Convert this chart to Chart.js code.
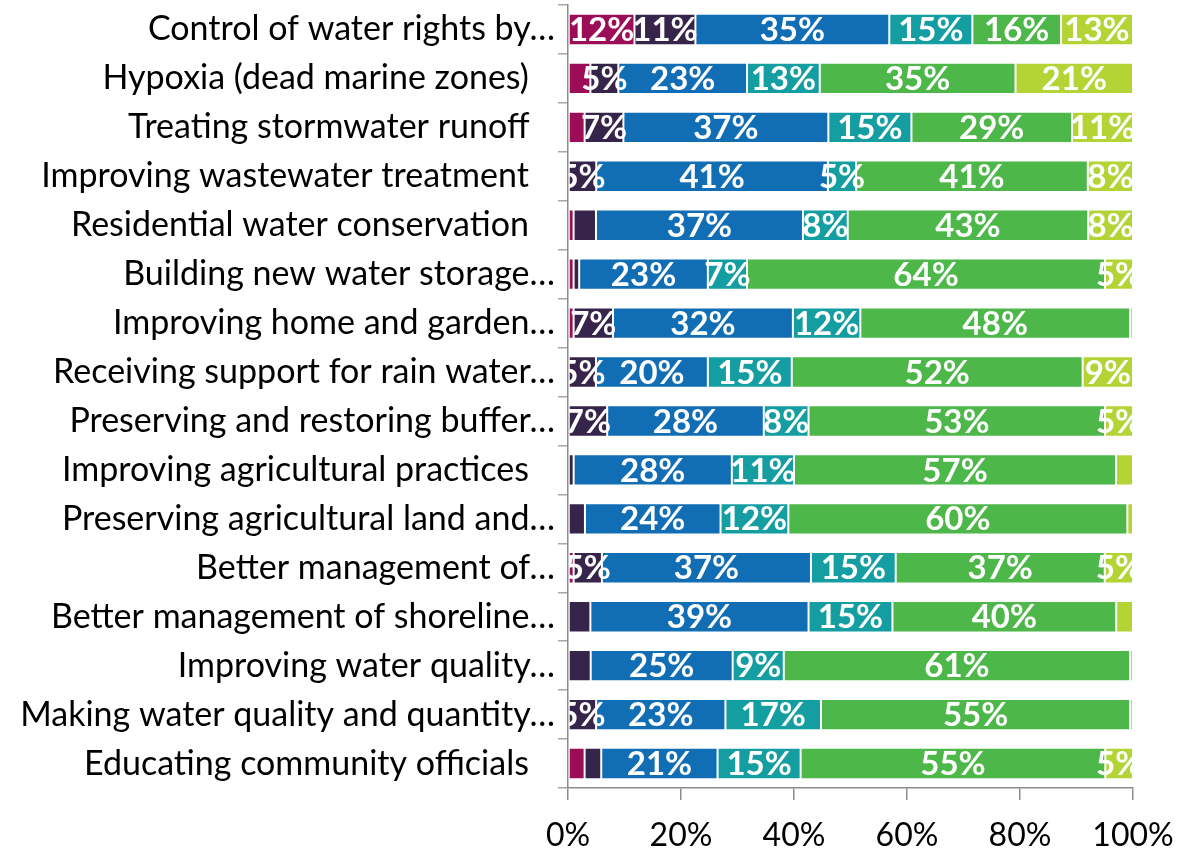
<!DOCTYPE html>
<html>
<head>
<meta charset="utf-8">
<script src="https://cdn.jsdelivr.net/npm/chart.js@4/dist/chart.umd.min.js"></script>
<style>
  html, body { margin: 0; padding: 0; background: #fff; }
  #wrap { position: relative; width: 1178px; height: 851px; }
</style>
</head>
<body>
<div id="wrap"><canvas id="chart"></canvas></div>
<script>
// topics, top to bottom (trailing nbsp on the untruncated ones, as in the source sheet)
const topics = [
  'Control of water rights by…',
  'Hypoxia (dead marine zones)\u00a0\u00a0\u00a0',
  'Treating stormwater runoff\u00a0\u00a0\u00a0',
  'Improving wastewater treatment\u00a0\u00a0\u00a0',
  'Residential water conservation\u00a0\u00a0\u00a0',
  'Building new water storage…',
  'Improving home and garden…',
  'Receiving support for rain water…',
  'Preserving and restoring buffer…',
  'Improving agricultural practices\u00a0\u00a0\u00a0',
  'Preserving agricultural land and…',
  'Better management of…',
  'Better management of shoreline…',
  'Improving water quality…',
  'Making water quality and quantity…',
  'Educating community officials\u00a0\u00a0\u00a0'
];

// response shares per topic (percent of respondents)
const level1 = [12, 4, 3, 0, 1, 1, 1, 0, 0, 0, 0, 1, 0, 0, 0, 3];
const level2 = [11, 5, 7, 5, 4, 1, 7, 5, 7, 1, 3, 5, 4, 4, 5, 3];
const level3 = [35, 23, 37, 41, 37, 23, 32, 20, 28, 28, 24, 37, 39, 25, 23, 21];
const level4 = [15, 13, 15, 5, 8, 7, 12, 15, 8, 11, 12, 15, 15, 9, 17, 15];
const level5 = [16, 35, 29, 41, 43, 64, 48, 52, 53, 57, 60, 37, 40, 61, 55, 55];
const level6 = [13, 21, 11, 8, 8, 5, 0.5, 9, 5, 3, 1, 5, 3, 0.5, 0.5, 5];

const xTicks = [0, 20, 40, 60, 80, 100];

const series = [level1, level2, level3, level4, level5, level6];
const colors = ['#9b0e57', '#37244a', '#116eb4', '#159ea1', '#4db749', '#b4d334'];

// 100% stacking: each row scaled to its own total
const rowTotals = topics.map((_, i) => series.reduce((s, arr) => s + arr[i], 0));

const datasets = series.map((arr, k) => ({
  label: 'level ' + (k + 1),
  data: arr.map((v, i) => v / rowTotals[i] * 100),
  raw: arr,
  backgroundColor: colors[k],
  borderColor: 'rgba(255,255,255,0.9)',
  borderWidth: 1,
  borderSkipped: false,
  categoryPercentage: 1,
  barPercentage: 0.64
}));

// white value labels centred on segments of 5% and up, clipped to the plot
const segLabels = {
  id: 'segLabels',
  afterDatasetsDraw(chart) {
    const ctx = chart.ctx;
    const area = chart.chartArea;
    ctx.save();
    ctx.beginPath();
    ctx.rect(area.left + 1, 0, area.right - area.left + 2, chart.height);
    ctx.clip();
    ctx.font = 'bold 33px Lato';
    ctx.fillStyle = '#fff';
    ctx.textAlign = 'center';
    ctx.textBaseline = 'middle';
    chart.data.datasets.forEach((ds, k) => {
      const meta = chart.getDatasetMeta(k);
      meta.data.forEach((bar, i) => {
        const v = ds.raw[i];
        if (v < 5) return;
        const { x, y, base } = bar.getProps(['x', 'y', 'base'], true);
        ctx.fillText(Math.round(v) + '%', (x + base) / 2, y + 1);
      });
    });
    ctx.restore();
  }
};

new Chart(document.getElementById('chart'), {
  type: 'bar',
  data: { labels: topics, datasets },
  options: {
    indexAxis: 'y',
    responsive: true,
    maintainAspectRatio: false,
    animation: false,
    layout: { padding: { top: 5, right: 45, bottom: 0, left: 0 } },
    plugins: { legend: { display: false }, tooltip: { enabled: false } },
    scales: {
      x: {
        stacked: true,
        min: 0,
        max: 100,
        afterBuildTicks: (s) => { s.ticks = xTicks.map(v => ({ value: v })); },
        afterFit: (s) => { s.height = 63; s.paddingLeft = 0; s.paddingRight = 0; },
        grid: { drawOnChartArea: false, drawTicks: true, tickLength: 12, color: '#8c8c8c', lineWidth: 1.5 },
        border: { display: true, color: '#8c8c8c', width: 1.5 },
        ticks: {
          padding: 16,
          color: '#000',
          font: { family: 'Lato', size: 32 },
          maxRotation: 0,
          callback: (v) => v + '%'
        }
      },
      y: {
        stacked: true,
        afterFit: (s) => { s.width = 568; s.paddingTop = 0; s.paddingBottom = 0; },
        grid: { drawOnChartArea: false, drawTicks: true, tickLength: 10, color: '#a6a6a6', lineWidth: 1.5, offset: true },
        border: { display: true, color: '#8c8c8c', width: 1.5 },
        ticks: {
          padding: 3,
          color: '#000',
          autoSkip: false,
          font: { family: 'Lato', size: 34 }
        }
      }
    }
  },
  plugins: [segLabels]
});
</script>
</body>
</html>
